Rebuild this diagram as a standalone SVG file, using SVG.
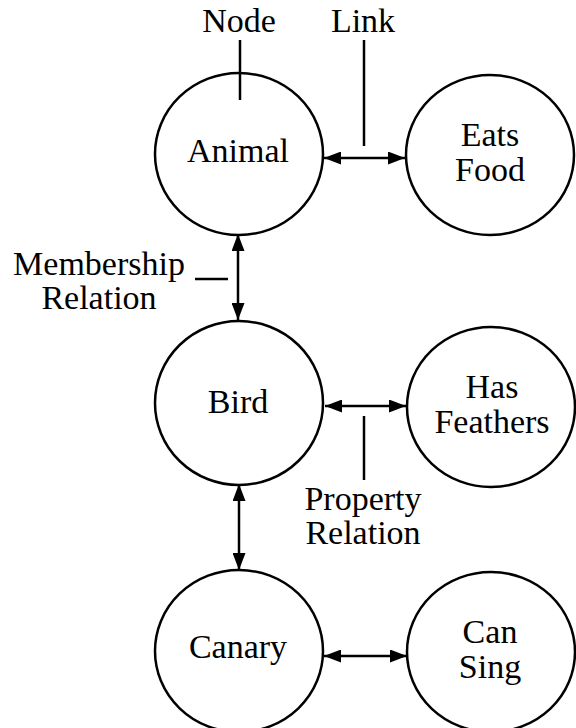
<svg xmlns="http://www.w3.org/2000/svg" width="576" height="728" viewBox="0 0 576 728">
  <style>
    .node { fill: #fff; stroke: #000; stroke-width: 2.5; }
    .lbl { font-family: "Liberation Serif", "DejaVu Serif", serif; font-size: 34px; fill: #000; text-anchor: middle; }
    .edge { stroke: #000; stroke-width: 2.5; fill: none; }
    .pointer { stroke: #000; stroke-width: 2.5; fill: none; }
  </style>
  <defs>
    <marker id="head" viewBox="0 0 17 13" refX="17" refY="6.5" markerWidth="17" markerHeight="13" markerUnits="userSpaceOnUse" orient="auto-start-reverse">
      <path d="M0,0 L17,6.5 L0,13 Z" fill="#000"/>
    </marker>
  </defs>

  <!-- nodes -->
  <g id="animal">
    <ellipse class="node" cx="239" cy="154" rx="84" ry="81"/>
    <text class="lbl" x="238" y="162">Animal</text>
  </g>
  <g id="eats-food">
    <ellipse class="node" cx="490" cy="155" rx="84" ry="80"/>
    <text class="lbl" x="490" y="146">Eats</text>
    <text class="lbl" x="490" y="181">Food</text>
  </g>
  <g id="bird">
    <ellipse class="node" cx="239" cy="403" rx="84" ry="82"/>
    <text class="lbl" x="238" y="413">Bird</text>
  </g>
  <g id="has-feathers">
    <ellipse class="node" cx="491" cy="407" rx="84" ry="80"/>
    <text class="lbl" x="492" y="398">Has</text>
    <text class="lbl" x="492" y="433">Feathers</text>
  </g>
  <g id="canary">
    <ellipse class="node" cx="239" cy="651" rx="84" ry="81"/>
    <text class="lbl" x="238" y="658">Canary</text>
  </g>
  <g id="can-sing">
    <ellipse class="node" cx="491" cy="652" rx="84" ry="80"/>
    <text class="lbl" x="490" y="643">Can</text>
    <text class="lbl" x="490" y="678">Sing</text>
  </g>

  <!-- connectors -->
  <g id="connectors">
    <line class="edge" x1="324" y1="158" x2="405" y2="158" marker-start="url(#head)" marker-end="url(#head)"/>
    <line class="edge" x1="238" y1="234" x2="238" y2="320" marker-start="url(#head)" marker-end="url(#head)"/>
    <line class="edge" x1="325" y1="406" x2="406" y2="406" marker-start="url(#head)" marker-end="url(#head)"/>
    <line class="edge" x1="239" y1="484" x2="239" y2="570" marker-start="url(#head)" marker-end="url(#head)"/>
    <line class="edge" x1="324" y1="656" x2="407" y2="656" marker-start="url(#head)" marker-end="url(#head)"/>
  </g>

  <!-- annotations -->
  <g id="annotations">
    <text class="lbl" x="239" y="32">Node</text>
    <line class="pointer" x1="240" y1="40" x2="240" y2="100"/>
    <text class="lbl" x="363" y="32">Link</text>
    <line class="pointer" x1="364" y1="40" x2="364" y2="146"/>
    <text class="lbl" x="99" y="275">Membership</text>
    <text class="lbl" x="99" y="309">Relation</text>
    <line class="pointer" x1="195" y1="279" x2="228" y2="279"/>
    <line class="pointer" x1="364" y1="416" x2="364" y2="480"/>
    <text class="lbl" x="363" y="510">Property</text>
    <text class="lbl" x="363" y="544">Relation</text>
  </g>
</svg>
